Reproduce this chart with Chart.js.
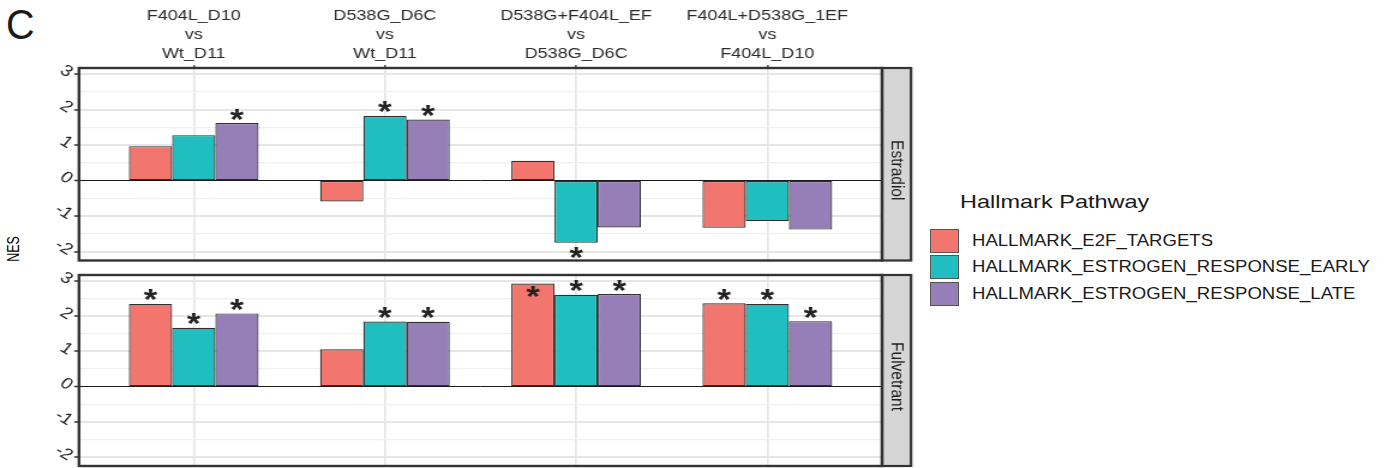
<!DOCTYPE html>
<html>
<head>
<meta charset="utf-8">
<script src="https://cdn.jsdelivr.net/npm/chart.js@4.4.1/dist/chart.umd.min.js"></script>
<style>
  html, body { margin: 0; padding: 0; background: #fff; width: 1386px; height: 468px; overflow: hidden;
    font-family: "Liberation Sans", Arial, Helvetica, sans-serif; }
  #wrap { position: relative; width: 1386px; height: 468px; }
  #wrap canvas { position: absolute; left: 0; top: 0; }
  .tag { position: absolute; left: 6px; top: 3px; font-size: 43px; line-height: 43px; color: #1a1a1a;
    transform: scaleX(0.92); transform-origin: left top; }
  .ylab { position: absolute; left: 15px; top: 249px; font-size: 12.5px; line-height: 13px; color: #000;
    transform: translate(-50%, -50%) scaleX(1.25) rotate(-90deg); white-space: nowrap; }
  .legend-title { position: absolute; left: 960px; top: 192px; font-size: 18.5px; line-height: 19px; color: #1a1a1a;
    white-space: nowrap; transform: scaleX(1.27); transform-origin: left center; }
  .legend-item { position: absolute; left: 930px; height: 24px; display: flex; align-items: center; white-space: nowrap; }
  .legend-key { width: 29px; height: 24px; box-sizing: border-box; border: 1px solid #555; margin-right: 13px; flex: none; }
  .legend-text { font-size: 16px; color: #1a1a1a; transform: scaleX(1.16); transform-origin: left center; }
</style>
</head>
<body>
<div id="wrap">
  <div class="tag">C</div>
  <div class="ylab">NES</div>
  <canvas id="estradiol" width="775" height="468" style="width:930px;height:468px"></canvas>
  <canvas id="fulvestrant" width="775" height="468" style="width:930px;height:468px"></canvas>
  <div id="legend"></div>
</div>
<script>
// Comparisons (facet columns), one multi-line label each
const comparisons = [
  ['F404L_D10', 'vs', 'Wt_D11'],
  ['D538G_D6C', 'vs', 'Wt_D11'],
  ['D538G+F404L_EF', 'vs', 'D538G_D6C'],
  ['F404L+D538G_1EF', 'vs', 'F404L_D10']
];
const pathways = ['HALLMARK_E2F_TARGETS', 'HALLMARK_ESTROGEN_RESPONSE_EARLY', 'HALLMARK_ESTROGEN_RESPONSE_LATE'];
const pathwayColors = ['#F3766E', '#21BEC0', '#967EB8'];
const treatments = ['Estradiol', 'Fulvetrant'];
const yTicks = [-2, -1, 0, 1, 2, 3];

// NES values, one per comparison
const estradiolE2F   = [0.97, -0.59, 0.56, -1.33];
const estradiolEarly = [1.28, 1.82, -1.75, -1.14];
const estradiolLate  = [1.62, 1.72, -1.32, -1.38];
const fulvestrantE2F   = [2.35, 1.06, 2.93, 2.37];
const fulvestrantEarly = [1.67, 1.85, 2.61, 2.35];
const fulvestrantLate  = [2.08, 1.84, 2.63, 1.86];

// Significant enrichment flags, marked with *
const estradiolE2FSig   = [false, false, false, false];
const estradiolEarlySig = [false, true, true, false];
const estradiolLateSig  = [true, true, false, false];
const fulvestrantE2FSig   = [true, false, true, true];
const fulvestrantEarlySig = [true, true, true, true];
const fulvestrantLateSig  = [true, true, true, true];

const Y_MIN = -2.25, Y_MAX = 3.17;
const FONT = '"Liberation Sans", Arial, Helvetica, sans-serif';
// the plotting canvases are drawn narrow and widened by CSS (930px shown / 775px drawn)
const SX = 930 / 775;

// legend
const legend = document.getElementById('legend');
const title = document.createElement('div');
title.className = 'legend-title';
title.textContent = 'Hallmark Pathway';
legend.appendChild(title);
pathways.forEach((p, i) => {
  const item = document.createElement('div');
  item.className = 'legend-item';
  item.style.top = (229 + i * 26.3) + 'px';
  const key = document.createElement('div');
  key.className = 'legend-key';
  key.style.background = pathwayColors[i];
  const txt = document.createElement('span');
  txt.className = 'legend-text';
  txt.textContent = p;
  item.appendChild(key);
  item.appendChild(txt);
  legend.appendChild(item);
});

// Panel border and facet strip on the right
const framePlugin = {
  id: 'frame',
  afterDraw(chart, args, opts) {
    const { ctx, chartArea: a } = chart;
    const sw = 29 / SX;
    ctx.save();
    ctx.fillStyle = '#d6d6d6';
    ctx.fillRect(a.right, a.top, sw, a.bottom - a.top);
    ctx.strokeStyle = '#333';
    ctx.lineWidth = 2.2;
    ctx.strokeRect(a.right, a.top, sw, a.bottom - a.top);
    ctx.translate(a.right + sw / 2, (a.top + a.bottom) / 2 + 6);
    ctx.rotate(Math.PI / 2);
    ctx.fillStyle = '#1a1a1a';
    ctx.font = '15.5px ' + FONT;
    ctx.textAlign = 'center';
    ctx.textBaseline = 'middle';
    ctx.fillText(opts.label, 0, 0);
    ctx.restore();
    ctx.save();
    ctx.strokeStyle = '#333';
    ctx.lineWidth = 2.4;
    ctx.strokeRect(a.left, a.top, a.right - a.left, a.bottom - a.top);
    ctx.restore();
  }
};

// Significance asterisks above (or below) bars
const starPlugin = {
  id: 'stars',
  afterDatasetsDraw(chart) {
    const { ctx } = chart;
    const yScale = chart.scales.y;
    ctx.save();
    ctx.font = 'bold 29px ' + FONT;
    ctx.fillStyle = '#222';
    ctx.textAlign = 'center';
    ctx.textBaseline = 'alphabetic';
    const m = ctx.measureText('*');
    const mid = (m.actualBoundingBoxAscent - m.actualBoundingBoxDescent) / 2;
    chart.data.datasets.forEach((ds, i) => {
      const meta = chart.getDatasetMeta(i);
      ds.sig.forEach((s, j) => {
        if (!s) return;
        const v = ds.data[j].y;
        let pos = v >= 0 ? v + 0.24 : v - 0.28;
        if (pos > Y_MAX - 0.1) pos = v - 0.25;
        ctx.fillText('*', meta.data[j].x, yScale.getPixelForValue(pos) + mid);
      });
    });
    ctx.restore();
  }
};

function yGridTicks() {
  const out = [];
  yTicks.forEach(t => {
    out.push({ value: t });
    if (t + 0.5 <= Y_MAX) out.push({ value: t + 0.5 });
  });
  return out.filter(t => t.value >= Y_MIN && t.value <= Y_MAX);
}

function makePanel(id, treatment, series, sigs, showTop, padTop, padBottom) {
  const datasets = series.map((vals, i) => ({
    label: pathways[i],
    data: vals.map((v, j) => ({ x: j + 1, y: v })),
    sig: sigs[i],
    backgroundColor: pathwayColors[i],
    borderColor: '#2e2e2e',
    borderWidth: 1.2,
    borderSkipped: false,
    categoryPercentage: 0.678,
    barPercentage: 1.0
  }));
  return new Chart(document.getElementById(id), {
    type: 'bar',
    data: { datasets },
    options: {
      responsive: false,
      animation: false,
      devicePixelRatio: 1,
      events: [],
      layout: { padding: { top: padTop, bottom: padBottom, left: 0, right: (930 - 882) / SX } },
      plugins: { legend: { display: false }, tooltip: { enabled: false }, frame: { label: treatment } },
      scales: {
        x: {
          type: 'linear',
          position: 'top',
          offset: false,
          min: 0.4,
          max: 4.6,
          afterBuildTicks: axis => { axis.ticks = comparisons.map((c, i) => ({ value: i + 1 })); },
          afterFit: axis => { axis.height = showTop ? 68 : 0; axis.paddingLeft = 0; axis.paddingRight = 0; },
          border: { display: false },
          grid: { offset: false, color: '#e6e6e6', lineWidth: 1.7, drawTicks: showTop, tickLength: 3, tickColor: '#333', tickWidth: 1.3 },
          ticks: {
            display: showTop,
            autoSkip: false,
            maxRotation: 0,
            padding: 2,
            color: '#2b2b2b',
            font: { family: FONT, size: 15, lineHeight: 1.25 },
            callback: v => comparisons[Math.round(v) - 1]
          }
        },
        y: {
          type: 'linear',
          min: Y_MIN,
          max: Y_MAX,
          afterBuildTicks: axis => { axis.ticks = yGridTicks(); },
          afterFit: axis => { axis.width = 79 / SX; axis.paddingTop = 0; axis.paddingBottom = 0; },
          border: { display: false },
          grid: {
            color: c => c.tick.value === 0 ? '#1a1a1a' : (Number.isInteger(c.tick.value) ? '#e6e6e6' : '#f0f0f0'),
            lineWidth: c => c.tick.value === 0 ? 1 : (Number.isInteger(c.tick.value) ? 2 : 1.2),
            tickColor: c => Number.isInteger(c.tick.value) ? '#333' : 'rgba(0,0,0,0)',
            tickWidth: 1.5,
            tickLength: 4
          },
          ticks: {
            autoSkip: false,
            padding: 3,
            minRotation: -35,
            maxRotation: -35,
            color: '#222',
            font: { family: FONT, size: 16 },
            callback: v => Number.isInteger(v) ? String(v) : ''
          }
        }
      }
    },
    plugins: [framePlugin, starPlugin]
  });
}

makePanel('estradiol', treatments[0],
  [estradiolE2F, estradiolEarly, estradiolLate],
  [estradiolE2FSig, estradiolEarlySig, estradiolLateSig],
  true, 0, 207.5);
makePanel('fulvestrant', treatments[1],
  [fulvestrantE2F, fulvestrantEarly, fulvestrantLate],
  [fulvestrantE2FSig, fulvestrantEarlySig, fulvestrantLateSig],
  false, 275, 2);
</script>
</body>
</html>
